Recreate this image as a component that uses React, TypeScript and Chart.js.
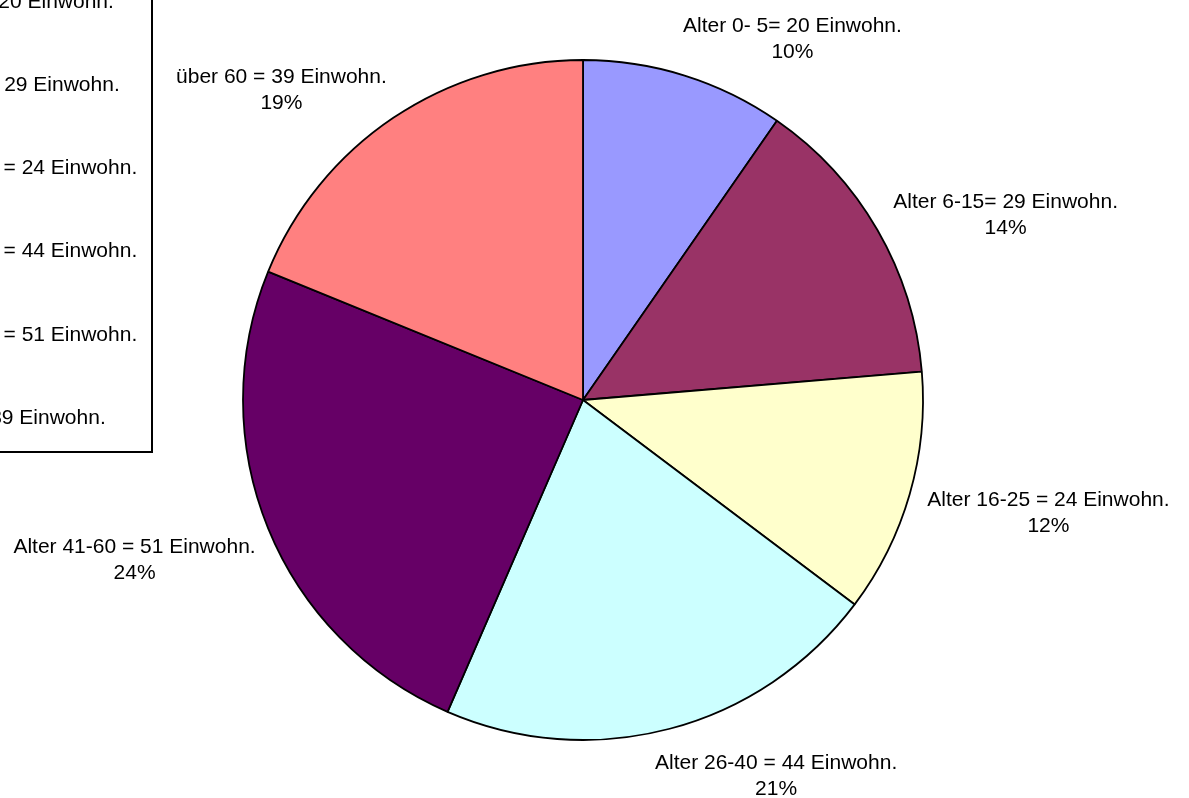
import React, { useEffect, useRef } from "react";
import { Chart, registerables } from "chart.js";

Chart.register(...registerables);

const categories = [
  "Alter 0- 5= 20 Einwohn.",
  "Alter 6-15= 29 Einwohn.",
  "Alter 16-25 = 24 Einwohn.",
  "Alter 26-40 = 44 Einwohn.",
  "Alter 41-60 = 51 Einwohn.",
  "über 60 = 39 Einwohn.",
];
const values = [20, 29, 24, 44, 51, 39];
const percentLabels = ["10%", "14%", "12%", "21%", "24%", "19%"];
const colors = ["#9999FF", "#993366", "#FFFFCC", "#CCFFFF", "#660066", "#FF8080"];

const FONT = '21px "Liberation Sans", Arial, sans-serif';
const LINE_H = 26;

// data-label anchors relative to the pie centre, in units of the radius
// [x of text centre, y of first baseline]
const labelAnchors: number[][] = [
  [0.616, -1.083],
  [1.243, -0.565],
  [1.369, 0.312],
  [0.568, 1.085],
  [-1.319, 0.45],
  [-0.887, -0.932],
];

const dataLabelPlugin = {
  id: "dataLabels",
  afterDraw(chart: any) {
    const meta = chart.getDatasetMeta(0);
    if (!meta || !meta.data.length) return;
    const { x, y, outerRadius } = meta.data[0].getProps(["x", "y", "outerRadius"], true);
    const ctx = chart.ctx;
    ctx.save();
    ctx.font = FONT;
    ctx.fillStyle = "#000";
    ctx.textAlign = "center";
    ctx.textBaseline = "alphabetic";
    const labels = chart.data.labels;
    labels.forEach((lab: string, i: number) => {
      const a = labelAnchors[i];
      const px = x + a[0] * outerRadius;
      const py = y + a[1] * outerRadius;
      ctx.fillText(lab, px, py);
      ctx.fillText(percentLabels[i], px, py + LINE_H);
    });
    ctx.restore();
  },
};

// Legend box, partly cut off by the top-left edge of the picture
const legendPlugin = {
  id: "boxLegend",
  afterDraw(chart: any) {
    const ctx = chart.ctx;
    const labels = chart.data.labels;
    const bg = chart.data.datasets[0].backgroundColor;
    ctx.save();
    ctx.fillStyle = "#fff";
    ctx.fillRect(-200, -200, 352, 652);
    ctx.strokeStyle = "#000";
    ctx.lineWidth = 2;
    ctx.strokeRect(-200, -200, 352, 652);
    ctx.font = FONT;
    ctx.textAlign = "left";
    ctx.textBaseline = "alphabetic";
    const step = 83.33;
    labels.forEach((lab: string, i: number) => {
      const cy = i * step;
      ctx.fillStyle = bg[i];
      ctx.fillRect(-135, cy - 7, 14, 14);
      ctx.strokeStyle = "#000";
      ctx.lineWidth = 1;
      ctx.strokeRect(-135, cy - 7, 14, 14);
      ctx.fillStyle = "#000";
      ctx.fillText(lab, -105, cy + 7.5);
    });
    ctx.restore();
  },
};

export default function App() {
  const ref = useRef<HTMLCanvasElement | null>(null);
  useEffect(() => {
    if (!ref.current) return;
    const chart = new Chart(ref.current, {
      type: "pie",
      data: {
        labels: categories,
        datasets: [
          {
            data: values,
            backgroundColor: colors,
            borderColor: "#000",
            borderWidth: 1.8,
            radius: 340,
          } as any,
        ],
      },
      options: {
        animation: false,
        responsive: true,
        maintainAspectRatio: false,
        layout: { padding: { left: 0, right: 23, top: 2, bottom: 0 } },
        plugins: {
          legend: { display: false },
          tooltip: { enabled: false },
        },
      },
      plugins: [dataLabelPlugin, legendPlugin],
    });
    return () => chart.destroy();
  }, []);
  return (
    <div style={{ position: "absolute", left: 0, top: 0, width: 1189, height: 798, background: "#fff" }}>
      <canvas ref={ref} />
    </div>
  );
}
